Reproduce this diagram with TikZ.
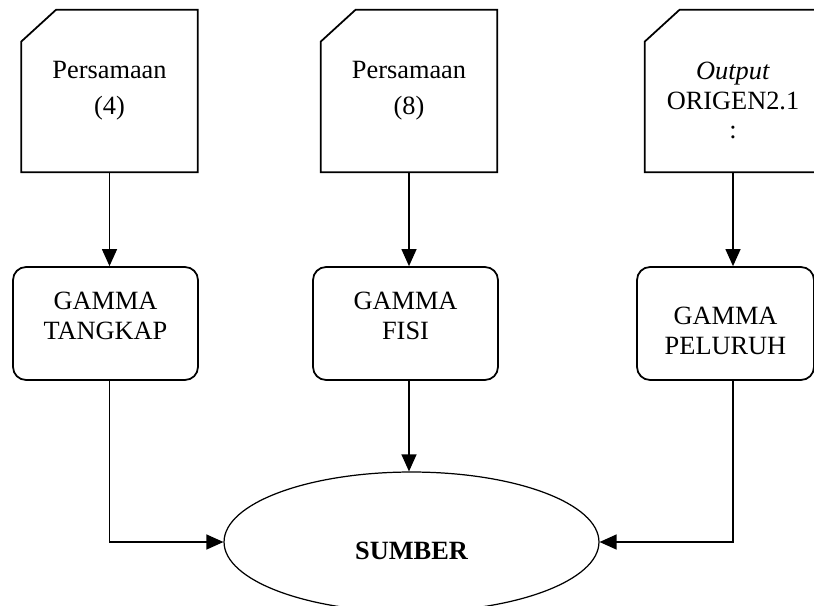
\documentclass[tikz,border=0pt]{standalone}
\usepackage{fontspec}
\setmainfont{Liberation Serif}
\usetikzlibrary{arrows.meta,positioning,shapes.geometric}

\tikzset{
	card/.style={minimum width=3.52cm, minimum height=3.24cm, inner sep=0pt},
	cardline/.style={line width=1pt},
	gbox/.style={draw, line width=1pt, rounded corners=0.26cm, minimum width=3.7cm, minimum height=2.26cm, inner sep=0pt},
	txt/.style={align=center, font=\fontsize{15}{17}\selectfont},
	arr/.style={-{Triangle[length=0.34cm,width=0.3cm]}, line width=0.7pt}
}

\begin{document}
\begin{tikzpicture}[x=0.02cm, y=-0.02cm]
	\useasboundingbox (0,0) rectangle (814,605);
	\node[card, label={[txt]center:{Persamaan\\[0.12cm](4)}}] (eq4) at (109.5,91) {};
	\node[card, label={[txt]center:{Persamaan\\[0.12cm](8)}}] (eq8) at (409,91) {};
	\node[card, label={[txt,yshift=-0.19cm]center:{\textit{Output}\\ORIGEN2.1\\:}}] (orig) at (733,91) {};
	\foreach \c in {eq4,eq8,orig}
	  \draw[cardline] ([yshift=-0.64cm]\c.north west) -- ([xshift=0.7cm]\c.north west) -- (\c.north east)
	    -- (\c.south east) -- (\c.south west) -- cycle;

	\node[gbox, label={[txt,yshift=0.16cm]center:{GAMMA\\TANGKAP}}] (tangkap) at (105.5,323.5) {};
	\node[gbox, label={[txt,yshift=0.16cm]center:{GAMMA\\FISI}}] (fisi) at (405.5,323.5) {};
	\node[gbox, minimum width=3.54cm, label={[txt,yshift=-0.14cm]center:{GAMMA\\PELURUH}}] (peluruh) at (725.5,323.5) {};

	\node[draw, ellipse, line width=0.7pt, minimum width=7.5cm, minimum height=2.8cm, inner sep=0pt,
	  label={[txt,yshift=-0.18cm]center:{\bfseries SUMBER}}] (sumber) at (411.5,542) {};

	\draw[arr] (eq4.south) -- (eq4.south |- tangkap.north);
	\draw[arr] (eq8.south) -- (eq8.south |- fisi.north);
	\draw[arr] (orig.south) -- (orig.south |- peluruh.north);
	\draw[arr] (eq4.south |- tangkap.south) |- (sumber.west);
	\draw[arr] (eq8.south |- fisi.south) -- (eq8.south |- sumber.north);
	\draw[arr] (orig.south |- peluruh.south) |- (sumber.east);
\end{tikzpicture}
\end{document}
